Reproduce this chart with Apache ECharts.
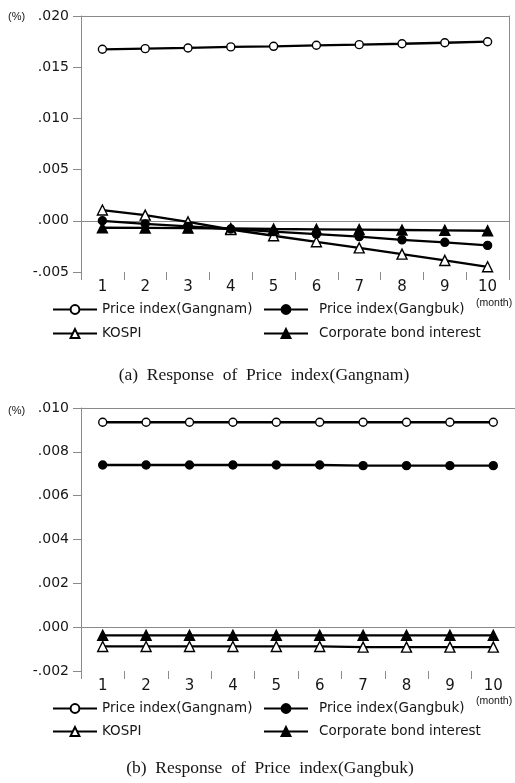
<!DOCTYPE html>
<html>
<head>
<meta charset="utf-8">
<script src="https://cdn.jsdelivr.net/npm/echarts@6/dist/echarts.min.js"></script>
<style>
html,body{margin:0;padding:0;background:#fff;}
#c{width:515px;height:783px;}
</style>
</head>
<body>
<div id="c"></div>
<script>
// ---- data ----
const months = ['1','2','3','4','5','6','7','8','9','10'];
const seriesNames = ['Price index(Gangnam)','Price index(Gangbuk)','KOSPI','Corporate bond interest'];

// (a) Response of Price index(Gangnam)
const a_gangnam = [0.01675,0.01681,0.01688,0.01698,0.01704,0.01714,0.01720,0.01729,0.01739,0.01749];
const a_gangbuk = [0.00000,-0.00030,-0.00055,-0.00080,-0.00105,-0.00130,-0.00155,-0.00186,-0.00210,-0.00240];
const a_kospi   = [0.00105,0.00055,-0.00010,-0.00085,-0.00146,-0.00205,-0.00264,-0.00325,-0.00387,-0.00449];
const a_bond    = [-0.00068,-0.00070,-0.00072,-0.00075,-0.00080,-0.00083,-0.00086,-0.00090,-0.00093,-0.00097];

// (b) Response of Price index(Gangbuk)
const b_gangnam = [0.00935,0.00935,0.00935,0.00935,0.00935,0.00935,0.00935,0.00935,0.00935,0.00935];
const b_gangbuk = [0.00740,0.00740,0.00740,0.00740,0.00740,0.00740,0.00737,0.00737,0.00737,0.00737];
const b_kospi   = [-0.00088,-0.00088,-0.00088,-0.00088,-0.00088,-0.00088,-0.00091,-0.00091,-0.00091,-0.00091];
const b_bond    = [-0.00037,-0.00037,-0.00037,-0.00037,-0.00037,-0.00037,-0.00037,-0.00037,-0.00037,-0.00037];

const yTicksA = {min:-0.005, max:0.020, interval:0.005};
const yTicksB = {min:-0.002, max:0.010, interval:0.002};

// ---- styles ----
const GREY = '#8a8a8a';
const TXT = '#161616';
const SANS = '"DejaVu Sans", "Liberation Sans", Arial, sans-serif';
const SMALL = '"Liberation Sans", Arial, sans-serif';
const markerStyles = [
  {symbol:'circle', symbolSize:8, fill:'#fff'},
  {symbol:'circle', symbolSize:8, fill:'#000'},
  {symbol:'triangle', symbolSize:10, fill:'#fff'},
  {symbol:'triangle', symbolSize:10, fill:'#000'}
];

function fmt(v){
  const s = Math.abs(v).toFixed(3).replace(/^0/, '');
  return (v < -1e-9 ? '-' : '') + s;
}

function makeSeries(gi, arrs){
  return arrs.map((d, i) => {
    const m = markerStyles[i];
    const s = {
      type:'line', name:seriesNames[i], xAxisIndex:gi*2, yAxisIndex:gi*2,
      data:d, symbol:m.symbol, symbolSize:m.symbolSize, showAllSymbol:true,
      lineStyle:{color:'#000', width:2.3},
      itemStyle:{color:m.fill, borderColor:'#000', borderWidth:1.4},
      z: 3 + (arrs.length - i),
      emphasis:{disabled:true}, animation:false
    };
    if (i === 0) {
      s.markLine = {silent:true, symbol:'none', label:{show:false},
        lineStyle:{color:GREY, width:1, type:'solid'}, data:[{yAxis:0}], z:1, animation:false};
    }
    return s;
  });
}

function xAxes(gi){
  return [
    {gridIndex:gi, type:'category', data:months, position:'bottom', boundaryGap:true,
     axisLine:{show:false, onZero:false},
     axisTick:{show:true, length:8, lineStyle:{color:GREY, width:1}},
     axisLabel:{margin:8, fontSize:15, color:TXT, fontFamily:SANS},
     splitLine:{show:false}},
    {gridIndex:gi, type:'category', data:months, position:'top',
     axisLine:{show:true, onZero:false, lineStyle:{color:GREY, width:1}},
     axisTick:{show:false}, axisLabel:{show:false}, splitLine:{show:false}}
  ];
}
function yAxes(gi, t){
  return [
    {gridIndex:gi, type:'value', min:t.min, max:t.max, interval:t.interval, position:'left',
     axisLine:{show:true, onZero:false, lineStyle:{color:GREY, width:1}},
     axisTick:{show:true, length:8, lineStyle:{color:GREY, width:1}},
     axisLabel:{margin:12, fontSize:14, color:TXT, fontFamily:SANS, formatter:fmt},
     splitLine:{show:false}},
    {gridIndex:gi, type:'value', min:t.min, max:t.max, interval:t.interval, position:'right',
     axisLine:{show:true, onZero:false, lineStyle:{color:GREY, width:1}},
     axisTick:{show:false}, axisLabel:{show:false}, splitLine:{show:false}}
  ];
}

function legendItem(name, left, top, w, padLeft){
  return {left:left, top:top, padding:0, itemWidth:w, itemHeight:11,
    selectedMode:false,
    textStyle:{fontSize:13.5, color:TXT, fontFamily:SANS, padding:[0,0,0,padLeft]},
    data:[name]};
}

const chart = echarts.init(document.getElementById('c'), null, {renderer:'canvas'});
chart.setOption({
  backgroundColor:'#fff',
  animation:false,
  grid:[
    {left:81, top:16, width:428, height:256},
    {left:81, top:408, width:438, height:263}
  ],
  xAxis:[...xAxes(0), ...xAxes(1)],
  yAxis:[...yAxes(0, yTicksA), ...yAxes(1, yTicksB)],
  legend:[
    legendItem(seriesNames[0], 52, 302.5, 44, 0),
    legendItem(seriesNames[1], 263, 302.5, 44, 6),
    legendItem(seriesNames[2], 52, 326.5, 44, 0),
    legendItem(seriesNames[3], 263, 326.5, 44, 6),
    legendItem(seriesNames[0], 52, 701.5, 44, 0),
    legendItem(seriesNames[1], 263, 701.5, 44, 6),
    legendItem(seriesNames[2], 52, 724.5, 44, 0),
    legendItem(seriesNames[3], 263, 724.5, 44, 6)
  ],
  graphic:[
    {type:'text', x:8, y:17, style:{text:'(%)', font:'11px ' + SMALL, fill:TXT, verticalAlign:'middle'}},
    {type:'text', x:8, y:411, style:{text:'(%)', font:'11px ' + SMALL, fill:TXT, verticalAlign:'middle'}},
    {type:'text', x:476, y:303, style:{text:'(month)', font:'10.5px ' + SMALL, fill:TXT, verticalAlign:'middle'}},
    {type:'text', x:476, y:701, style:{text:'(month)', font:'10.5px ' + SMALL, fill:TXT, verticalAlign:'middle'}},
    {type:'text', x:264, y:375, style:{text:'(a)  Response  of  Price  index(Gangnam)', font:'17.5px "Liberation Serif", "Times New Roman", serif', fill:TXT, align:'center', verticalAlign:'middle'}},
    {type:'text', x:270, y:768, style:{text:'(b)  Response  of  Price  index(Gangbuk)', font:'17.5px "Liberation Serif", "Times New Roman", serif', fill:TXT, align:'center', verticalAlign:'middle'}}
  ],
  series:[...makeSeries(0, [a_gangnam, a_gangbuk, a_kospi, a_bond]), ...makeSeries(1, [b_gangnam, b_gangbuk, b_kospi, b_bond])]
});
</script>
</body>
</html>
